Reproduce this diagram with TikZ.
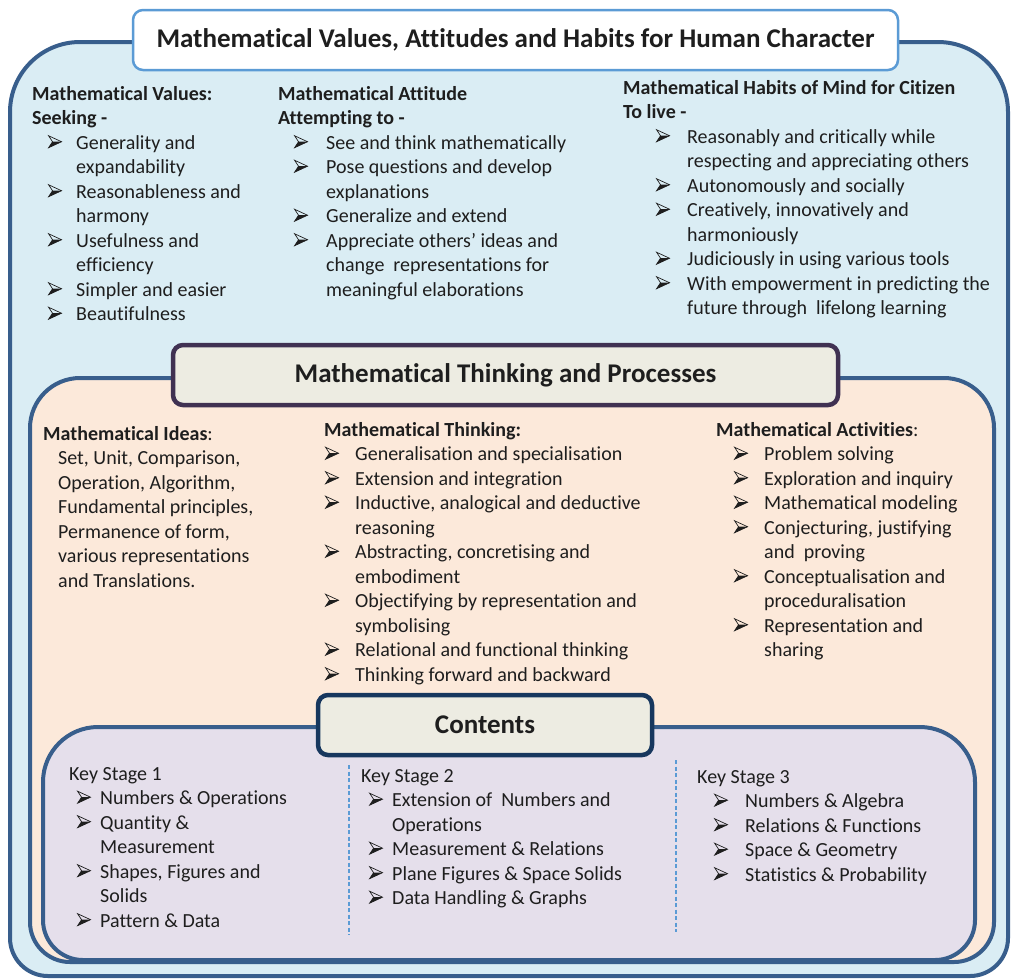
\documentclass[tikz,border=0pt]{standalone}
\usepackage{fontspec}
\setmainfont{Carlito}[Ligatures=NoCommon]
\usepackage{tikz}
\usetikzlibrary{positioning, calc}
\definecolor{outerblue}{RGB}{218, 237, 244}
\definecolor{frameblue}{RGB}{56, 94, 140}
\definecolor{titleblue}{RGB}{91, 155, 213}
\definecolor{peach}{RGB}{252, 233, 218}
\definecolor{lavender}{RGB}{229, 223, 235}
\definecolor{headfill}{RGB}{237, 236, 226}
\definecolor{headpurple}{RGB}{64, 49, 82}
\definecolor{headnavy}{RGB}{23, 55, 94}
\definecolor{inktext}{RGB}{30, 30, 30}
\newlength\bind
\newlength\bwid
% arrowhead bullet
\newcommand\arw{\tikz[x=1pt, y=1pt, baseline=0pt]{%
    \fill[inktext] (0,1.5) -- (13,7.5) -- (4,7.5) -- cycle;
    \draw[inktext, line width=0.7pt, line join=miter] (0,13.5) -- (13,7.5) -- (0,1.5) -- (4,7.5) -- cycle;}}
\newcommand\itm[1]{\hspace*{\bind}\makebox[\bwid][l]{\arw}#1}
\newcommand\cnt[1]{\hspace*{\bind}\hspace*{\bwid}#1}
\tikzset{
  panel/.style={line width=4pt, draw=frameblue},
  headbox/.style={rounded corners=10pt, fill=headfill, line width=4.5pt, text=inktext,
    font=\fontsize{27}{30}\selectfont\bfseries},
  col/.style 2 args={anchor=north west, align=left, inner sep=0pt, text=inktext,
    font=\fontsize{20}{24.5}\selectfont,
    execute at begin node={\setlength\bind{#1}\setlength\bwid{#2}}},
  sep/.style={dash pattern=on 4pt off 2.5pt, titleblue, line width=1.4pt}
}

\begin{document}
\begin{tikzpicture}[x=1pt, y=-1pt]
    \useasboundingbox (0,0) rectangle (1011,978);
    % panels
    \path[panel, fill=outerblue, rounded corners=38pt] (10,500) -- (10,976) -- (1008,976) -- (1008,500)
        [rounded corners=70pt] -- (1008,42) -- (10,42) -- cycle;
    \path[panel, fill=peach, rounded corners=40pt] (30,600) -- (30,962) -- (994,962) -- (994,600)
        [rounded corners=50pt] -- (994,378) -- (30,378) -- cycle;
    \path[panel, fill=lavender, rounded corners=40pt] (43,850) -- (43,960) -- (975,960) -- (975,850)
        [rounded corners=55pt] -- (975,727) -- (43,727) -- cycle;
    % headers
    \node (title) [headbox, fill=white, draw=titleblue, line width=2.5pt, minimum width=765pt, minimum height=60pt]
        at (515.5,40) {Mathematical Values, Attitudes and Habits for Human Character};
    \node (process) [headbox, draw=headpurple, minimum width=665pt, minimum height=60pt]
        at (505.5,375) {Mathematical Thinking and Processes};
    \node (contents) [headbox, draw=headnavy, minimum width=334pt, minimum height=60pt]
        at (485,725) {Contents};
    % values, attitudes, habits
    \node (values) [col={16pt}{28pt}] at (32,86) {\textbf{Mathematical Values:}\\\textbf{Seeking -}\\
        \itm{Generality and}\\\cnt{expandability}\\\itm{Reasonableness and}\\\cnt{harmony}\\
        \itm{Usefulness and}\\\cnt{efficiency}\\\itm{Simpler and easier}\\\itm{Beautifulness}};
    \node (attitude) [col={16pt}{32pt}] at (278,86) {\textbf{Mathematical Attitude}\\\textbf{Attempting to -}\\
        \itm{See and think mathematically}\\\itm{Pose questions and develop}\\\cnt{explanations}\\
        \itm{Generalize and extend}\\\itm{Appreciate others’ ideas and}\\\cnt{change\ \ representations for}\\
        \cnt{meaningful elaborations}};
    \node (habits) [col={33pt}{31pt}] at (623,80) {\textbf{Mathematical Habits of Mind for Citizen}\\\textbf{To live -}\\
        \itm{Reasonably and critically while}\\\cnt{respecting and appreciating others}\\
        \itm{Autonomously and socially}\\\itm{Creatively, innovatively and}\\\cnt{harmoniously}\\
        \itm{Judiciously in using various tools}\\\itm{With empowerment in predicting the}\\
        \cnt{future through\ \ lifelong learning}};
    % thinking and processes
    \node (ideas) [col={15pt}{0pt}] at (43,426) {\textbf{Mathematical Ideas}:\\
        \cnt{Set, Unit, Comparison,}\\\cnt{Operation, Algorithm,}\\\cnt{Fundamental principles,}\\
        \cnt{Permanence of form,}\\\cnt{various representations}\\\cnt{and Translations.}};
    \node (thinking) [col={1pt}{30pt}] at (324,422) {\textbf{Mathematical Thinking:}\\
        \itm{Generalisation and specialisation}\\\itm{Extension and integration}\\
        \itm{Inductive, analogical and deductive}\\\cnt{reasoning}\\
        \itm{Abstracting, concretising and}\\\cnt{embodiment}\\
        \itm{Objectifying by representation and}\\\cnt{symbolising}\\
        \itm{Relational and functional thinking}\\\itm{Thinking forward and backward}};
    \node (activities) [col={18pt}{30pt}] at (716,422) {\textbf{Mathematical Activities}:\\
        \itm{Problem solving}\\\itm{Exploration and inquiry}\\\itm{Mathematical modeling}\\
        \itm{Conjecturing, justifying}\\\cnt{and\ \ proving}\\\itm{Conceptualisation and}\\
        \cnt{proceduralisation}\\\itm{Representation and}\\\cnt{sharing}};
    % contents
    \node (stage1) [col={8pt}{23pt}] at (69,767) {Key Stage 1\\
        \itm{Numbers \& Operations}\\\itm{Quantity \&}\\\cnt{Measurement}\\
        \itm{Shapes, Figures and}\\\cnt{Solids}\\\itm{Pattern \& Data}};
    \node (stage2) [col={8pt}{23pt}] at (361,769) {Key Stage 2\\
        \itm{Extension of\ \ Numbers and}\\\cnt{Operations}\\\itm{Measurement \& Relations}\\
        \itm{Plane Figures \& Space Solids}\\\itm{Data Handling \& Graphs}};
    \node (stage3) [col={17pt}{31pt}] at (697,770) {Key Stage 3\\
        \itm{Numbers \& Algebra}\\\itm{Relations \& Functions}\\\itm{Space \& Geometry}\\
        \itm{Statistics \& Probability}};
    % separators
    \coordinate (sepAtop) at (349,765);
    \coordinate (sepAbot) at (349,935);
    \coordinate (sepBtop) at (676,760);
    \coordinate (sepBbot) at (676,932);
    \draw[sep] (sepAtop) -- (sepAbot);
    \draw[sep] (sepBtop) -- (sepBbot);
\end{tikzpicture}
\end{document}
